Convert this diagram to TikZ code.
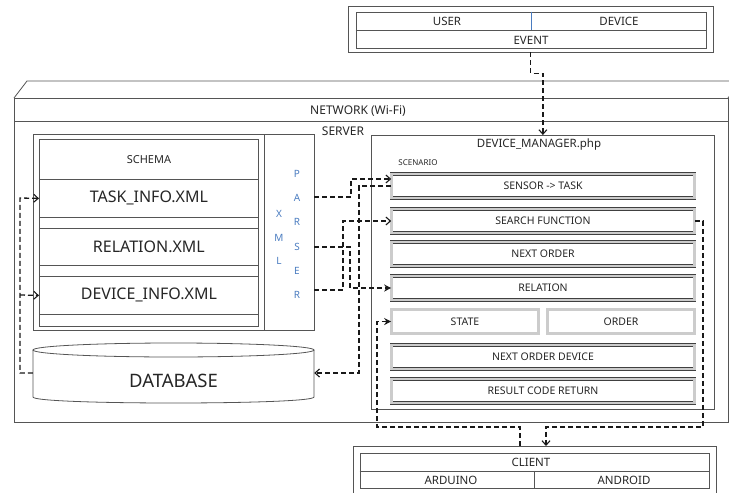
\documentclass[tikz,border=0pt]{standalone}
\usepackage{fontspec}
\setmainfont{Noto Sans}
\usetikzlibrary{calc}
\usetikzlibrary{positioning}
\usetikzlibrary{arrows.meta}

\definecolor{linegray}{HTML}{555555}
\definecolor{txtgray}{HTML}{262626}
\definecolor{xmlblue}{HTML}{4A7CC0}

\begin{document}
\begin{tikzpicture}[x=1pt, y=-1pt,
    boxline/.style={draw=linegray, line width=0.8pt},
    box/.style={rectangle, boxline, inner sep=0pt},
    txt/.style={text=txtgray, inner sep=0pt, font=\fontsize{11.5}{13}\selectfont},
    rowtxt/.style={txt, font=\fontsize{16}{18}\selectfont},
    xmltxt/.style={inner sep=0pt, text=xmlblue, font=\fontsize{10}{11}\selectfont},
    bar/.style={rectangle, draw=black!75, line width=0.6pt, double=gray!40, double distance=2.2pt, fill=white, inner sep=0pt, minimum height=24pt, text=txtgray, font=\fontsize{10.5}{12}\selectfont},
    link/.style={draw=black!90, line width=1.3pt, dash pattern=on 5pt off 3pt},
    openhead/.style={-{Straight Barb[length=4.5pt, width=8pt, line width=1.1pt]}},
    fullhead/.style={-{Stealth[length=7pt, width=7pt]}}
]
\useasboundingbox (0,0) rectangle (729,493);

% event
\node[box, minimum width=365, minimum height=46] (ev) at (530.5,29) {};
\node[box, minimum width=350, minimum height=36] (evin) at (531,30) {};
\draw[boxline] (evin.west) -- (evin.east);
\draw[xmlblue, line width=0.7pt] (evin.north) -- (evin.center);
\node[txt] (user) at (447,21) {USER};
\node[txt] (device) at (619,21) {DEVICE};
\node[txt] (event) at (531,40) {EVENT};

% network
\draw[boxline] (14,98) -- (27,81) -- (735,81);
\draw[boxline] (728,98) -- (738,85);
\node[box, minimum width=714, minimum height=324, anchor=north west] (net) at (14,98) {};
\draw[boxline] ($(net.north west)+(0,23)$) -- ($(net.north east)+(0,23)$);
\node[txt, font=\fontsize{12}{14}\selectfont] (netname) at (358,111) {NETWORK (Wi-Fi)};
\node[txt, font=\fontsize{12}{14}\selectfont] (server) at (343,131) {SERVER};

% xml side
\node[box, minimum width=281, minimum height=196, anchor=north west] (xml) at (33,134) {};
\node[box, minimum width=50, minimum height=196, anchor=north east] (parser) at (xml.north east) {};
\node[box, minimum width=219, minimum height=187, anchor=north west] (schemabox) at (39,139) {};
\node[box, txt, minimum width=219, minimum height=40, anchor=north west, font=\fontsize{11}{13}\selectfont] (schema) at (39,139) {SCHEMA};
\foreach \n/\t/\y/\h in {task/TASK\_INFO.XML/179/38, relation/RELATION.XML/228/37, devinfo/DEVICE\_INFO.XML/276/38}
    \node[box, rowtxt, minimum width=219, minimum height=\h, anchor=north west] (\n) at (39,\y) {\t};
\foreach \c[count=\i from 0] in {X,M,L}
    \node[xmltxt] (px\i) at (279,{214+23.5*\i}) {\c};
\foreach \c[count=\i from 0] in {P,A,R,S,E,R}
    \node[xmltxt] (pp\i) at (297,{174+24.2*\i}) {\c};
\coordinate (pa) at (314,197);
\coordinate (ps) at (314,247);
\coordinate (pr) at (314,290);

% database
\draw[boxline] (173.5,350) ellipse [x radius=140.5, y radius=7];
\draw[boxline] (33,350) -- (33,397) .. controls (33,405) and (314,405) .. (314,397) -- (314,350);
\node[minimum width=281, minimum height=40, inner sep=0pt] (db) at (173.5,373) {};
\node[txt, font=\fontsize{18.5}{20}\selectfont, yshift=-8pt] (dbname) at (db) {DATABASE};

% device manager
\node[box, minimum width=343, minimum height=274, anchor=north west] (dm) at (371,135) {};
\node[txt] (dmname) at (539,145) {DEVICE\_MANAGER.php};
\node[txt, font=\fontsize{8}{9}\selectfont] (scenario) at (418,163) {SCENARIO};
\foreach \n/\t/\y in {sensor/SENSOR -{}> TASK/186, search/SEARCH FUNCTION/221, nextorder/NEXT ORDER/254, relbar/RELATION/288, nextdev/NEXT ORDER DEVICE/357, result/RESULT CODE RETURN/391}
    \node[bar, minimum width=303] (\n) at (543,\y) {\t};
\node[bar, minimum width=147] (state) at (465,321.5) {STATE};
\node[bar, minimum width=147] (order) at (621,321.5) {ORDER};

% client
\node[box, minimum width=363, minimum height=60, anchor=north] (client) at (534.5,446) {};
\node[box, minimum width=349, minimum height=35, anchor=north] (clin) at (534.5,453) {};
\draw[boxline] (clin.west) -- (clin.east);
\draw[boxline] (clin.center) -- (clin.south);
\node[txt] (clientname) at (531,462) {CLIENT};
\node[txt] (arduino) at (451,480) {ARDUINO};
\node[txt] (android) at (624,480) {ANDROID};

% links
\draw[link, openhead] (ev.south) -- ++(0,21) -| (dm.north);
\draw[link, openhead] (pa) -| (351,179) -- ($(sensor.west)+(0,-7)$);
\draw[link, openhead] (pr) -| (343,221) -- (search.west);
\draw[link, fullhead] (ps) -| (350,288) -- (relbar.west);
\draw[link, openhead] (sensor.west) -| (359,373) -- (db.east);
\draw[link, openhead] (db.west) -| (20,198) -- (task.west);
\draw[link, openhead] (20,295) -- (devinfo.west);
\draw[link, openhead] (search.east) -| (703,427) -| ($(client.north)+(11.5,0)$);
\draw[link, fullhead] ($(client.north)+(-14.5,0)$) |- (377,427) |- (state.west);
\end{tikzpicture}
\end{document}
